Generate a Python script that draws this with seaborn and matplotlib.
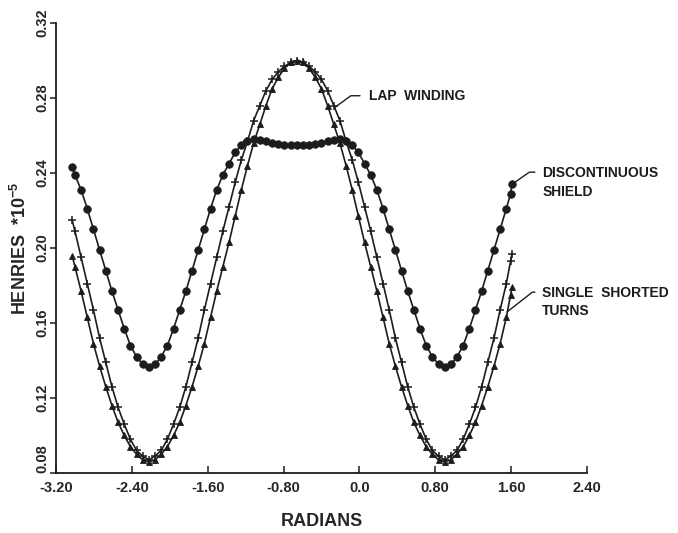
import matplotlib
matplotlib.use("Agg")
import matplotlib.pyplot as plt
import seaborn as sns
import pandas as pd

# ---------------- data ----------------
x_rad = [-3.03, -3.000, -2.935, -2.870, -2.805, -2.740, -2.675, -2.610, -2.545, -2.480,
         -2.415, -2.350, -2.285, -2.220, -2.155, -2.090, -2.025, -1.960, -1.895, -1.830,
         -1.765, -1.700, -1.635, -1.570, -1.505, -1.440, -1.375, -1.310, -1.245, -1.180,
         -1.115, -1.050, -0.985, -0.920, -0.855, -0.790, -0.725, -0.660, -0.595, -0.530,
         -0.465, -0.400, -0.335, -0.270, -0.205, -0.140, -0.075, -0.010, 0.055, 0.120,
         0.185, 0.250, 0.315, 0.380, 0.445, 0.510, 0.575, 0.640, 0.705, 0.770,
         0.835, 0.900, 0.965, 1.030, 1.095, 1.160, 1.225, 1.290, 1.355, 1.420,
         1.485, 1.550, 1.595, 1.610]

lap_winding = [0.215,
    0.209, 0.195, 0.181, 0.167, 0.152, 0.139, 0.126, 0.115, 0.106, 0.098, 0.092, 0.089, 0.087,
    0.089, 0.092, 0.098, 0.106, 0.115, 0.126, 0.139, 0.152, 0.167, 0.181, 0.195, 0.209,
    0.222, 0.235, 0.247, 0.257, 0.268, 0.276, 0.284, 0.290, 0.294, 0.297, 0.299, 0.300,
    0.299, 0.297, 0.294, 0.290, 0.284, 0.276, 0.268, 0.257, 0.247, 0.235, 0.222, 0.209,
    0.195, 0.181, 0.167, 0.152, 0.139, 0.126, 0.115, 0.106, 0.098, 0.092, 0.089, 0.087,
    0.089, 0.092, 0.098, 0.106, 0.115, 0.126, 0.139, 0.152, 0.167, 0.181,
    0.193, 0.197]

single_shorted = [0.196,
    0.190, 0.177, 0.163, 0.149, 0.137, 0.126, 0.116, 0.107, 0.100, 0.094, 0.090, 0.087, 0.086,
    0.087, 0.090, 0.094, 0.100, 0.107, 0.116, 0.126, 0.137, 0.149, 0.163, 0.177, 0.190,
    0.203, 0.217, 0.231, 0.244, 0.256, 0.266, 0.276, 0.285, 0.291, 0.296, 0.299, 0.300,
    0.299, 0.296, 0.291, 0.285, 0.276, 0.266, 0.256, 0.244, 0.231, 0.217, 0.203, 0.190,
    0.177, 0.163, 0.149, 0.137, 0.126, 0.116, 0.107, 0.100, 0.094, 0.090, 0.087, 0.086,
    0.087, 0.090, 0.094, 0.100, 0.107, 0.116, 0.126, 0.137, 0.149, 0.163,
    0.175, 0.179]

discontinuous = [0.243,
    0.239, 0.231, 0.221, 0.210, 0.199, 0.188, 0.177, 0.167, 0.157, 0.148, 0.142, 0.138, 0.1365,
    0.138, 0.142, 0.148, 0.157, 0.167, 0.177, 0.188, 0.199, 0.210, 0.221, 0.231, 0.239,
    0.245, 0.251, 0.255, 0.257, 0.258, 0.2575, 0.257, 0.256, 0.2555, 0.255, 0.255, 0.2548,
    0.255, 0.255, 0.2555, 0.256, 0.257, 0.2575, 0.258, 0.257, 0.255, 0.251, 0.245, 0.239,
    0.231, 0.221, 0.210, 0.199, 0.188, 0.177, 0.167, 0.157, 0.148, 0.142, 0.138, 0.1365,
    0.138, 0.142, 0.148, 0.157, 0.167, 0.177, 0.188, 0.199, 0.210, 0.221,
    0.229, 0.234]

x_ticks = [-3.20, -2.40, -1.60, -0.80, 0.0, 0.80, 1.60, 2.40]
x_tick_labels = ["-3.20", "-2.40", "-1.60", "-0.80", "0.0", "0.80", "1.60", "2.40"]
y_ticks = [0.08, 0.12, 0.16, 0.20, 0.24, 0.28, 0.32]
y_tick_labels = ["0.08", "0.12", "0.16", "0.20", "0.24", "0.28", "0.32"]

# ---------------- style ----------------
sns.set_style("ticks")
plt.rcParams["font.family"] = ["Liberation Sans", "DejaVu Sans"]
plt.rcParams["font.weight"] = "bold"
plt.rcParams["mathtext.fontset"] = "custom"
plt.rcParams["mathtext.rm"] = "Liberation Sans:bold"
plt.rcParams["mathtext.bf"] = "Liberation Sans:bold"
plt.rcParams["mathtext.default"] = "bf"

INK = "#1c1c1c"

fig = plt.figure(figsize=(6.78, 5.33), dpi=100)
ax = fig.add_axes([0.0826, 0.1126, 0.783, 0.844])

df_lap = pd.DataFrame({"x": x_rad, "y": lap_winding})
df_tri = pd.DataFrame({"x": x_rad, "y": single_shorted})
df_cir = pd.DataFrame({"x": x_rad, "y": discontinuous})

common = dict(ax=ax, x="x", y="y", sort=False, estimator=None, color=INK, lw=1.2)
sns.lineplot(data=df_cir, marker="o", markersize=5.4, markerfacecolor=INK,
             markeredgecolor=INK, markeredgewidth=0.6, **common)
sns.lineplot(data=df_lap, marker="+", markersize=6.0, markeredgecolor=INK,
             markeredgewidth=1.1, **common)
sns.lineplot(data=df_tri, marker="^", markersize=5.0, markerfacecolor=INK,
             markeredgecolor=INK, markeredgewidth=0.6, **common)

ax.set_xlim(-3.20, 2.40)
ax.set_ylim(0.08, 0.32)
ax.set_xticks(x_ticks)
ax.set_xticklabels(x_tick_labels, fontsize=10.5, fontweight="bold")
ax.set_yticks(y_ticks)
ax.set_yticklabels(y_tick_labels, fontsize=10.5, fontweight="bold",
                   rotation=90, va="center")
ax.get_yticklabels()[0].set_va("bottom")

ax.tick_params(axis="x", direction="in", length=5, width=1.1, color=INK, pad=6)
ax.tick_params(axis="y", direction="out", length=4, width=1.1, color=INK, pad=1)
sns.despine(ax=ax)
for s in ("left", "bottom"):
    ax.spines[s].set_linewidth(1.3)
    ax.spines[s].set_color(INK)

ax.set_xlabel("RADIANS", fontsize=13, fontweight="bold", labelpad=13)
ax.set_ylabel("HENRIES  *10$^{-5}$", fontsize=13, fontweight="bold", labelpad=4)

ann_kw = dict(xycoords="data", textcoords="data", ha="left", va="top",
              fontsize=10, fontweight="bold", color=INK, annotation_clip=False)

ax.annotate("LAP  WINDING", xy=(-0.26, 0.275), xytext=(0.10, 0.285),
            arrowprops=dict(arrowstyle="-", color=INK, lw=1.0, shrinkA=4, shrinkB=0,
                            relpos=(0, 0.5),
                            connectionstyle="angle,angleA=0,angleB=36,rad=0"),
            **ann_kw)
ax.annotate("DISCONTINUOUS\nSHIELD", xy=(1.61, 0.234), xytext=(1.93, 0.244),
            arrowprops=dict(arrowstyle="-", color=INK, lw=1.0, shrinkA=3, shrinkB=0,
                            relpos=(0, 0.8),
                            connectionstyle="angle,angleA=0,angleB=35,rad=0"),
            linespacing=1.45, **ann_kw)
ax.annotate("SINGLE  SHORTED\nTURNS", xy=(1.56, 0.166), xytext=(1.93, 0.180),
            arrowprops=dict(arrowstyle="-", color=INK, lw=1.0, shrinkA=3, shrinkB=0,
                            relpos=(0, 0.8),
                            connectionstyle="angle,angleA=0,angleB=38,rad=0"),
            linespacing=1.45, **ann_kw)

fig.savefig("out.png", dpi=100, facecolor="white")
